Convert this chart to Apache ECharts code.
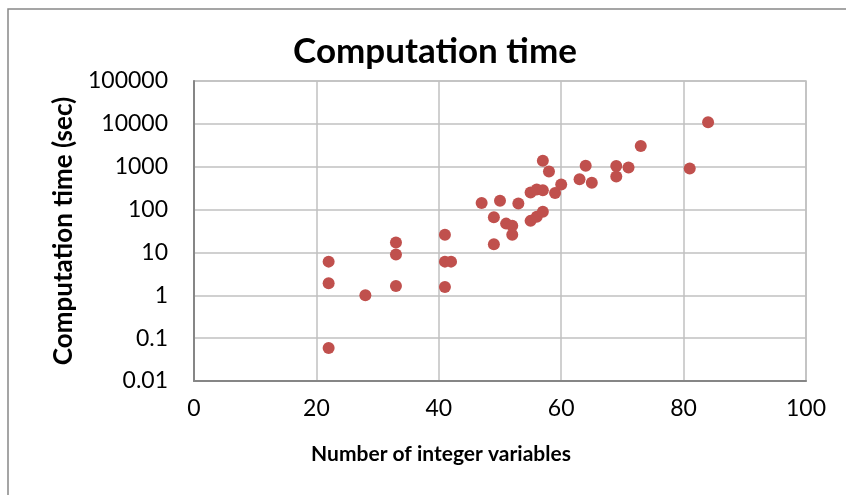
<!DOCTYPE html>
<html>
<head>
<meta charset="utf-8">
<script src="https://cdn.jsdelivr.net/npm/echarts@6/dist/echarts.min.js"></script>
<style>
  html, body { margin: 0; padding: 0; background: #fff; }
  #chart { width: 846px; height: 495px; }
</style>
</head>
<body>
<div id="chart"></div>
<script>
// number of integer variables vs computation time (sec)
var intVars = [22, 22, 22, 28, 33, 33, 33, 41, 41, 41, 42, 47, 49, 49, 50, 51, 52, 52, 53,
               55, 55, 56, 56, 57, 57, 57, 58, 59, 60, 63, 64, 65, 69, 69, 71, 73, 81, 84];
var compTime = [6.1, 1.9, 0.059, 1.0, 17, 8.9, 1.65, 25.7, 6.1, 1.56, 6.1, 143, 66, 15.6, 160, 47, 41.7, 26, 139,
                251, 54.5, 295, 67.6, 284, 1374, 88.5, 776, 245, 385, 513, 1052, 421, 1033, 593, 962, 3030, 912, 10840];
var yTicks = ['0.01', '0.1', '1', '10', '100', '1000', '10000', '100000'];

var points = intVars.map(function (x, i) { return [x, compTime[i]]; });

var font = 'Lato';
var chart = echarts.init(document.getElementById('chart'));
chart.setOption({
  backgroundColor: '#ffffff',
  animation: false,
  title: {
    text: 'Computation time',
    left: 430,
    textAlign: 'center',
    top: 29,
    textStyle: { fontFamily: font, fontWeight: 'bold', fontSize: 35, color: '#000' }
  },
  graphic: [{
    type: 'rect',
    shape: { x: 8, y: 9, width: 900, height: 600 },
    style: { fill: 'none', stroke: '#888888', lineWidth: 1.5 },
    silent: true
  }],
  grid: { left: 194, top: 81, right: 40, bottom: 114, show: true, borderColor: '#c0c0c0', borderWidth: 1.5 },
  xAxis: {
    type: 'value',
    min: 0, max: 100, interval: 20,
    name: 'Number of integer variables',
    nameLocation: 'middle',
    nameGap: 63,
    nameTextStyle: { fontFamily: font, fontWeight: 'bold', fontSize: 21, color: '#000', padding: [0, 118, 0, 0] },
    axisLine: { lineStyle: { color: '#868686', width: 2 } },
    axisTick: { show: false },
    axisLabel: { fontFamily: font, fontSize: 23, color: '#000', margin: 16 },
    splitLine: { lineStyle: { color: '#c0c0c0', width: 1.5 } }
  },
  yAxis: {
    type: 'log',
    logBase: 10,
    min: 0.01, max: 100000,
    name: 'Computation time (sec)',
    nameLocation: 'middle',
    nameGap: 117,
    nameTextStyle: { fontFamily: font, fontWeight: 'bold', fontSize: 26, color: '#000' },
    axisLine: { show: true, lineStyle: { color: '#868686', width: 2 } },
    axisTick: { show: false },
    axisLabel: {
      fontFamily: font, fontSize: 23, color: '#000', margin: 26,
      formatter: function (v) {
        var e = Math.round(Math.log10(v));
        return yTicks[e + 2];
      }
    },
    splitLine: { lineStyle: { color: '#c0c0c0', width: 1.5 } }
  },
  series: [{
    type: 'scatter',
    data: points,
    symbolSize: 12,
    itemStyle: { color: '#c0504d', opacity: 1 }
  }]
});
</script>
</body>
</html>
